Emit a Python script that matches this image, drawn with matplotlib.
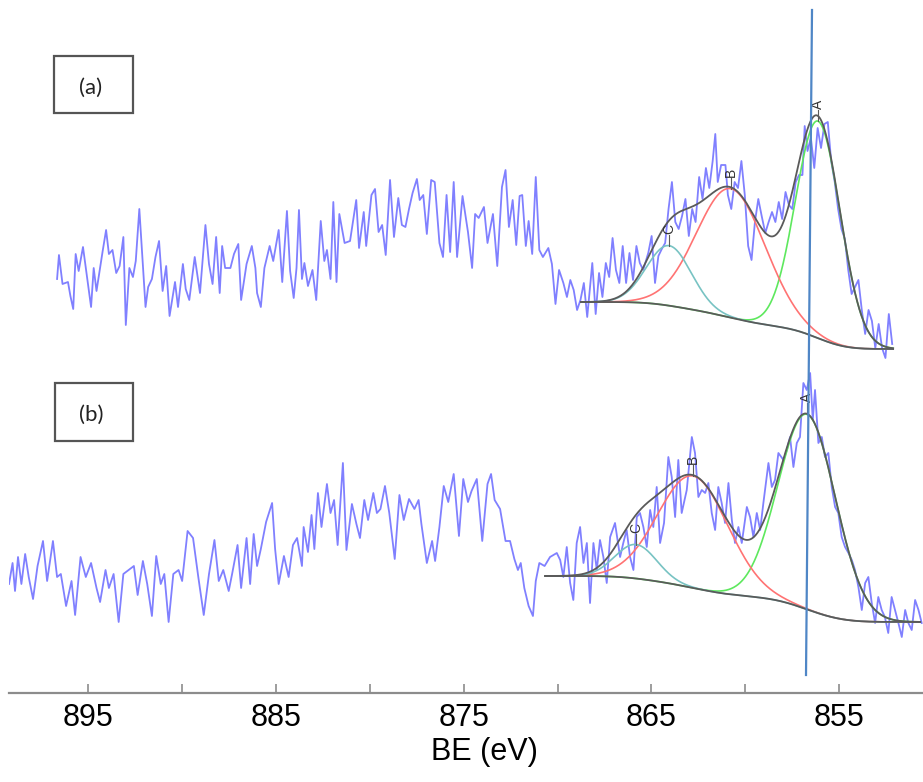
import numpy as np
import matplotlib
matplotlib.use("Agg")
import matplotlib.pyplot as plt
from matplotlib.patches import Rectangle

# ---------------------------------------------------------------- spectra
# Ni 2p3/2 region, two samples stacked; intensity in arbitrary units
be_a = [
    896.65, 896.55, 896.36, 896.07, 895.94, 895.79, 895.66, 895.50, 895.27, 895.12,
    894.84, 894.70, 894.55, 894.36, 894.23, 894.04, 893.89, 893.70, 893.50, 893.32,
    893.12, 892.99, 892.80, 892.61, 892.46, 892.27, 892.12, 891.94, 891.80, 891.60,
    891.41, 891.22, 891.03, 890.84, 890.66, 890.37, 890.21, 889.95, 889.80, 889.61,
    889.32, 889.04, 888.75, 888.56, 888.37, 888.18, 887.99, 887.86, 887.70, 887.42,
    887.23, 887.00, 886.85, 886.56, 886.28, 886.09, 886.00, 885.80, 885.61, 885.33,
    885.14, 884.85, 884.66, 884.41, 884.24, 884.05, 883.90, 883.77, 883.61, 883.48,
    883.29, 883.05, 882.85, 882.61, 882.42, 882.28, 882.09, 881.94, 881.77, 881.62,
    881.34, 881.05, 880.72, 880.57, 880.32, 880.19, 879.91, 879.72, 879.53, 879.34,
    879.15, 878.92, 878.71, 878.48, 878.29, 878.10, 877.91, 877.72, 877.49, 877.34,
    877.15, 876.96, 876.73, 876.54, 876.29, 876.10, 875.91, 875.72, 875.53, 875.35,
    875.06, 874.77, 874.55, 874.39, 874.20, 873.92, 873.73, 873.44, 873.21, 872.96,
    872.77, 872.59, 872.39, 872.20, 872.02, 871.88, 871.69, 871.54, 871.35, 871.16,
    870.97, 870.78, 870.49, 870.30, 870.11, 869.92,
    869.69, 869.50, 869.32, 869.14, 868.96, 868.78, 868.60, 868.42, 868.15, 867.97,
    867.79, 867.61, 867.43, 867.25, 867.07, 866.89, 866.71, 866.53, 866.35, 866.17,
    865.98, 865.80, 865.62, 865.44, 865.17, 864.99, 864.81, 864.63, 864.45, 864.27,
    864.09, 863.91, 863.73, 863.55, 863.37, 863.19, 863.01, 862.83, 862.65, 862.46,
    862.28, 862.10, 861.92, 861.74, 861.60, 861.47, 861.29, 861.06, 860.93, 860.75,
    860.57, 860.39, 860.21, 860.03, 859.85, 859.67, 859.49, 859.31, 859.13, 858.94,
    858.76, 858.58, 858.40, 858.22, 858.04, 857.86, 857.68, 857.50, 857.32, 857.14,
    856.96, 856.84, 856.69, 856.51, 856.33, 856.15, 855.97, 855.79, 855.61, 855.43,
    855.24, 855.06, 854.88, 854.70, 854.52, 854.34, 854.16, 853.98, 853.80, 853.62,
    853.44, 853.26, 853.08, 852.90, 852.72, 852.54, 852.36, 852.18,
]
int_a = [
    414, 438, 409, 411, 397, 384, 439, 422, 446, 425,
    386, 425, 402, 425, 441, 463, 439, 443, 420, 427,
    456, 368, 425, 416, 432, 484, 439, 386, 406, 414,
    436, 452, 402, 427, 377, 411, 386, 429, 404, 393,
    436, 400, 468, 429, 409, 456, 400, 447, 425, 425,
    439, 449, 393, 429, 447, 425, 400, 386, 425, 447,
    432, 463, 411, 482, 422, 395, 425, 483, 414, 430,
    407, 423, 393, 472, 432, 443, 414, 491, 411, 479,
    450, 452, 493, 445, 481, 447, 498, 504, 461, 468,
    438, 513, 456, 495, 468, 466, 484, 500, 514, 493,
    498, 459, 513, 511, 450, 436, 498, 441, 511, 436,
    497, 461, 425, 479, 475, 486, 450, 479, 427, 506,
    523, 466, 493, 448, 497, 498, 447, 472, 439, 516,
    443, 436, 445, 429, 389, 423,
    410, 396, 413, 403, 383, 393, 410, 376, 430, 379,
    420, 396, 430, 416, 455, 423, 410, 447, 410, 440,
    413, 447, 430, 423, 440, 457, 410, 437, 444, 450,
    484, 511, 471, 464, 477, 494, 457, 484, 471, 516,
    494, 525, 505, 532, 559, 511, 528, 528, 498, 484,
    511, 505, 532, 498, 447, 433, 471, 494, 477, 460,
    471, 481, 471, 491, 474, 501, 488, 484, 511, 518,
    518, 567, 542, 555, 525, 565, 545, 569, 571, 532,
    511, 484, 464, 454, 423, 399, 406, 413, 383, 359,
    383, 372, 345, 369, 345, 335, 379, 349,
]

be_b = [
    899.21, 899.02, 898.89, 898.73, 898.55, 898.35, 898.16, 897.93, 897.69, 897.40,
    897.18, 896.87, 896.65, 896.45, 896.17, 895.88, 895.69, 895.40, 895.12, 894.84,
    894.55, 894.36, 894.07, 893.89, 893.64, 893.37, 893.12, 892.84, 892.56, 892.36,
    892.08, 891.85, 891.60, 891.37, 891.13, 890.94, 890.71, 890.46, 890.18, 889.99,
    889.70, 889.41, 889.13, 888.84, 888.56, 888.27, 888.04, 887.80, 887.51, 887.33,
    887.04, 886.85, 886.56, 886.37, 886.18, 886.00, 885.80, 885.52, 885.20, 885.04,
    884.85, 884.57, 884.32, 884.09, 883.87, 883.61, 883.52, 883.29, 883.10, 882.95,
    882.76, 882.57, 882.28, 882.09, 881.90, 881.71, 881.43, 881.24, 880.95, 880.71,
    880.52, 880.29, 880.09, 879.81, 879.62, 879.43, 879.19, 878.96, 878.67, 878.42,
    878.19, 877.91, 877.62, 877.40, 877.25, 876.96, 876.68, 876.52, 876.29, 876.06,
    875.82, 875.53, 875.25, 875.02, 874.77, 874.58, 874.30, 874.01, 873.73, 873.54,
    873.35, 873.06, 872.77, 872.53, 872.30, 872.11, 871.96, 871.77, 871.54, 871.31,
    871.16, 870.97, 870.69, 870.40,
    870.04, 869.86, 869.69, 869.51, 869.33, 869.16, 868.98, 868.80, 868.62, 868.44,
    868.27, 868.09, 867.91, 867.74, 867.56, 867.38, 867.20, 866.94, 866.67, 866.50,
    866.32, 866.14, 865.96, 865.78, 865.61, 865.43, 865.25, 865.07, 864.90, 864.72,
    864.54, 864.33, 864.10, 863.92, 863.74, 863.57, 863.39, 863.12, 862.85, 862.68,
    862.50, 862.32, 862.14, 861.97, 861.79, 861.61, 861.44, 861.26, 861.08, 860.90,
    860.72, 860.55, 860.37, 860.19, 859.92, 859.75, 859.57, 859.39, 859.21, 859.04,
    858.77, 858.59, 858.42, 858.24, 857.97, 857.79, 857.62, 857.44, 857.26, 857.09,
    856.91, 856.73, 856.55, 856.41, 856.29, 856.11, 855.93, 855.76, 855.58, 855.40,
    855.22, 855.05, 854.87, 854.69, 854.51, 854.33, 854.16, 853.98, 853.80, 853.62,
    853.45, 853.27, 853.09, 852.92, 852.74, 852.57, 852.39, 852.21, 852.03, 851.85,
    851.67, 851.49, 851.32, 851.14, 850.96, 850.78, 850.61,
]
int_b = [
    109, 130, 102, 136, 109, 139, 116, 94, 127, 152,
    112, 152, 116, 119, 87, 112, 78, 136, 116, 130,
    105, 91, 123, 105, 119, 71, 119, 123, 127, 98,
    132, 109, 77, 137, 109, 119, 71, 119, 123, 112,
    162, 155, 116, 78, 119, 153, 112, 123, 102, 119,
    148, 105, 155, 109, 159, 127, 144, 171, 190, 144,
    109, 137, 116, 148, 155, 127, 166, 141, 178, 144,
    200, 166, 209, 180, 193, 148, 230, 143, 189, 169,
    155, 193, 173, 200, 180, 184, 207, 180, 134, 198,
    173, 194, 184, 193, 169, 130, 152, 132, 166, 207,
    191, 219, 157, 214, 191, 202, 214, 152, 209, 219,
    193, 184, 152, 152, 134, 123, 130, 105, 87, 77,
    112, 130, 127, 136,
    140, 133, 116, 146, 110, 93, 150, 166, 130, 150,
    90, 150, 123, 153, 136, 110, 156, 170, 136, 150,
    163, 136, 123, 176, 180, 166, 146, 183, 166, 206,
    150, 170, 236, 216, 176, 233, 180, 203, 256, 240,
    196, 203, 200, 210, 180, 163, 206, 190, 170, 210,
    173, 150, 166, 150, 186, 176, 156, 180, 163, 190,
    230, 206, 213, 240, 233, 243, 256, 226, 250, 256,
    310, 303, 320, 273, 303, 250, 256, 236, 240, 206,
    186, 180, 156, 146, 140, 133, 123, 106, 83, 110,
    116, 90, 70, 96, 83, 76, 60, 96, 83, 70,
    56, 83, 70, 63, 93, 83, 70,
]

# ---------------------------------------------------------------- fit results
# peak label -> (centre BE [eV], FWHM [eV], height above background)
peaks_a = {"A": (856.13, 2.8, 217), "B": (860.76, 4.3, 129), "C": (864.06, 2.8, 60)}
peaks_b = {"A": (856.71, 3.6, 195), "B": (862.78, 4.4, 112), "C": (865.82, 2.6, 34)}
# fit window (low BE, high BE) and Shirley background level at each end
window_a = (852.13, 868.75)
bg_levels_a = (344, 391)
window_b = (850.69, 870.66)
bg_levels_b = (71, 117)

# reference line through the main peak (BE at top and bottom of the line)
ref_line_be = (856.45, 856.77)

major_ticks = [895, 885, 875, 865, 855]
minor_ticks = [890, 880, 870, 860]
panel_labels = ["(a)", "(b)"]

colors = {"A": "#5ee85e", "B": "#ff7373", "C": "#78c3c3"}
fit_grey = "#5a5a5a"
trace_blue = "#6060ff"


def gauss(e, c, fwhm, h):
    return h * np.exp(-4.0 * np.log(2.0) * (e - c) ** 2 / fwhm ** 2)


def fit_curves(peaks, window, levels):
    e = np.linspace(window[0], window[1], 600)
    comps = {k: gauss(e, *p) for k, p in peaks.items()}
    total = sum(comps.values())
    cum = np.concatenate([[0.0], np.cumsum(0.5 * (total[1:] + total[:-1]) * np.diff(e))])
    bg = levels[0] + (levels[1] - levels[0]) * cum / cum[-1]
    return e, comps, bg


fig = plt.figure(figsize=(9.23, 7.82), dpi=100)
ax = fig.add_axes([9 / 923, 89 / 782, 914 / 923, 693 / 782])

for be, inten in ((be_a, int_a), (be_b, int_b)):
    ax.plot(be, inten, color=trace_blue, lw=1.3, alpha=0.8, zorder=1,
            solid_joinstyle="round")

for peaks, window, levels in ((peaks_a, window_a, bg_levels_a),
                              (peaks_b, window_b, bg_levels_b)):
    e, comps, bg = fit_curves(peaks, window, levels)
    for k, comp in comps.items():
        ax.plot(e, bg + comp, color=colors[k], lw=1.2, zorder=2)
    ax.plot(e, bg, color=fit_grey, lw=1.3, zorder=3)
    ax.plot(e, bg + sum(comps.values()), color=fit_grey, lw=1.3, zorder=3)
    for k, (c, fwhm, h) in peaks.items():
        top = np.interp(c, e, bg) + h
        ax.plot([c, c], [top, top + 11], color=fit_grey, lw=0.8, zorder=3)
        ax.text(c, top + 12, k, rotation=90, ha="center", va="bottom",
                fontsize=10, color="#333333", family="Liberation Sans", zorder=4)

ax.plot(ref_line_be, [683, 18], color="#4f86c6", lw=1.6, zorder=5)

ax.set_xlim(899.21, 850.54)
ax.set_ylim(0, 693)
ax.set_yticks([])
for s in ("top", "left", "right"):
    ax.spines[s].set_visible(False)
ax.spines["bottom"].set_color("#8c8c8c")
ax.spines["bottom"].set_linewidth(1.6)
ax.set_xticks(major_ticks)
ax.set_xticks(minor_ticks, minor=True)
ax.tick_params(axis="x", which="both", direction="in", length=6.5, width=1.2,
               color="#8c8c8c", pad=7.5)
for lab in ax.get_xticklabels():
    lab.set_fontfamily("Liberation Sans")
    lab.set_fontsize(22)
ax.set_xlabel("BE (eV)", fontsize=22, family="Liberation Sans", va="center")
ax.xaxis.set_label_coords((484 - 9) / 914, (782 - 752 - 89) / 693)
ax.patch.set_visible(False)

# panel tags
for label, (x0, y0, x1, y1) in zip(panel_labels, [(54, 56, 133, 113), (55, 383, 133, 441)]):
    fig.patches.append(Rectangle((x0 / 923, 1 - y1 / 782), (x1 - x0) / 923, (y1 - y0) / 782,
                                 transform=fig.transFigure, fill=False,
                                 edgecolor="#555555", lw=1.6))
    fig.text((x0 + x1) / 2 / 923 - 0.003, 1 - (y0 + y1 + 6) / 2 / 782, label,
             ha="center", va="center", fontsize=16, family="Lato", color="#222222")

fig.savefig("out.png", dpi=100)
